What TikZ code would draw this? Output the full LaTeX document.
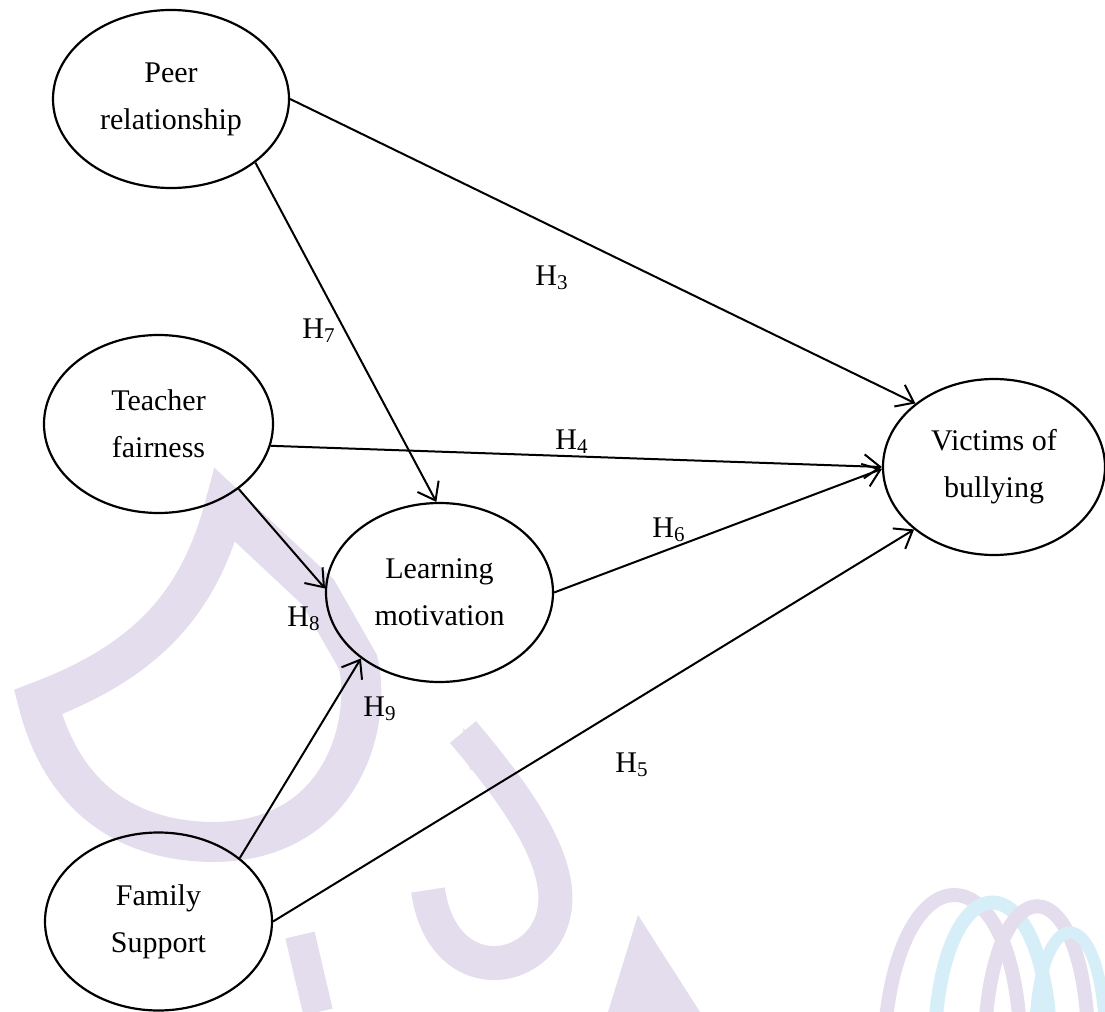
\documentclass[tikz,border=0pt]{standalone}
\usepackage{fontspec}
\setmainfont{Liberation Serif}
\usetikzlibrary{arrows.meta,shapes.geometric}

\definecolor{wmlav}{RGB}{228,221,237}
\definecolor{wmcyan}{RGB}{214,238,248}

\tikzset{
  construct/.style={ellipse, draw, line width=1.1pt, inner sep=0pt,
    align=center, font={\fontsize{15}{23.5}\selectfont}},
  path/.style={line width=1pt, -{Straight Barb[length=8pt,width=12pt,line width=1pt]}},
  hyp/.style={anchor=base west, inner sep=0pt, font={\fontsize{15}{18}\selectfont}},
  wm/.style={draw=wmlav, line cap=butt, line join=round}
}

\begin{document}
\begin{tikzpicture}[x=0.5pt, y=-0.5pt]
\useasboundingbox (0,0) rectangle (1105,1012);

% faint background marks
\draw[wm, line width=20pt, line join=miter]
  (225,505) -- (318,592) -- (358,662)
  .. controls (372,720) and (345,840) .. (215,842)
  .. controls (120,842) and (60,790) .. (38,702)
  .. controls (150,660) and (200,600) .. cycle;
\draw[wm, line width=17pt]
  (463,732) .. controls (520,800) and (580,880) .. (545,935)
  .. controls (515,980) and (440,975) .. (428,890);
\fill[wmlav] (463,728) -- (492,760) -- (470,770) -- cycle;
\fill[wmlav] (638,915) -- (700,1012) -- (608,1012) -- cycle;
\draw[wm, line width=15pt] (300,935) -- (318,1012);
\draw[draw=wmlav, line width=7pt] (885,1030) .. controls (900,850) and (1010,850) .. (1020,1030);
\draw[draw=wmcyan, line width=7pt] (935,1030) .. controls (945,860) and (1040,860) .. (1050,1030);
\draw[draw=wmlav, line width=7pt] (985,1030) .. controls (995,865) and (1080,865) .. (1088,1030);
\draw[draw=wmcyan, line width=6pt] (1035,1030) .. controls (1040,900) and (1100,900) .. (1105,1030);

% constructs
\node[construct, minimum width=118pt, minimum height=89pt] (peer) at (171,99) {Peer\\relationship};
\node[construct, minimum width=114.5pt, minimum height=89pt] (teach) at (158.5,424) {Teacher\\fairness};
\node[construct, minimum width=113.5pt, minimum height=89.5pt] (learn) at (439.5,592.5) {Learning\\motivation};
\node[construct, minimum width=113.5pt, minimum height=89pt] (fam) at (158.5,921.5) {Family\\Support};
\node[construct, minimum width=111pt, minimum height=88pt] (vict) at (994,467) {Victims of\\bullying};

% hypothesised paths
\draw[path] (peer.0) -- (vict.141);
\draw[path] (peer.323.5) -- (learn.92);
\draw[path] (teach.349.3) -- (vict.180);
\draw[path] (teach.321.4) -- (learn.178);
\draw[path] (learn.0) -- (vict.181);
\draw[path] (fam.38) -- (learn.220);
\draw[path] (fam.0) -- (vict.218.7);

% hypothesis labels
\node[hyp] (h3) at (535,285) {H\textsubscript{3}};
\node[hyp] (h7) at (302,338) {H\textsubscript{7}};
\node[hyp] (h4) at (555,449) {H\textsubscript{4}};
\node[hyp] (h6) at (652,537) {H\textsubscript{6}};
\node[hyp] (h8) at (287,626) {H\textsubscript{8}};
\node[hyp] (h9) at (363,716) {H\textsubscript{9}};
\node[hyp] (h5) at (615,772) {H\textsubscript{5}};
\end{tikzpicture}
\end{document}
